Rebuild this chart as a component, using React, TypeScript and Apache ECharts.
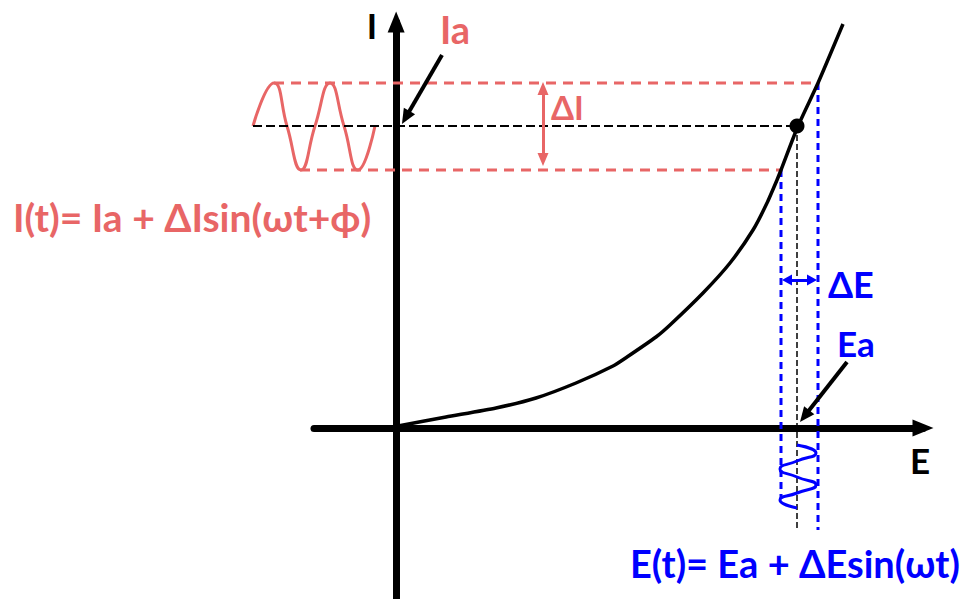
import React, { useEffect, useRef } from 'react';
import * as echarts from 'echarts';

const RED = '#E86666';
const BLUE = '#0000FF';
const FONT = "Lato, 'Noto Sans', 'DejaVu Sans', sans-serif";

// operating point and excursions (arbitrary units)
const Ea = 4.01;
const Ia = 3.02;
const eLow = 3.85;
const eHigh = 4.22;
const iLow = 2.58;
const iHigh = 3.45;

// I–E characteristic curve
const curveE = [0.02, 0.5, 1.0, 1.4, 1.8, 2.17, 2.31, 2.6, 2.74, 3.07, 3.34, 3.57, 3.71, 3.81, 3.85, 4.02, 4.22, 4.47];
const curveI = [0.02, 0.11, 0.2, 0.3, 0.45, 0.62, 0.71, 0.91, 1.03, 1.35, 1.65, 1.98, 2.25, 2.48, 2.58, 3.02, 3.45, 4.04];

// current response wave (drawn left of the I axis)
const currentWaveT = [-1.43, -1.22, -1.09, -0.95, -0.81, -0.66, -0.52, -0.38, -0.21];
const currentWaveI = [3.02, 3.45, 3.02, 2.58, 3.02, 3.45, 3.02, 2.58, 3.02];

// potential perturbation wave (drawn below the E axis)
const voltageWaveE = [4.01, 4.2, 4.01, 3.84, 4.01, 4.2, 4.01, 3.84, 4.01];
const voltageWaveT = [-0.17, -0.25, -0.33, -0.41, -0.49, -0.57, -0.65, -0.72, -0.8];

// guide-line extents
const waveStart = -1.43;
const redTopStart = -1.22;
const redBottomStart = -0.96;
const blueLeftBottom = -0.7;
const guideBottom = -1.02;

// annotation arrows [from, to]
const arrowIa = [[0.46, 3.73], [0.097, 3.105]];
const arrowEa = [[4.51, 0.66], [4.086, 0.119]];
const arrowDeltaI = [[1.47, 3.395], [1.47, 2.685]];
const arrowDeltaE = [[3.91, 1.48], [4.16, 1.48]];

// texts
const axisNameI = 'I';
const axisNameE = 'E';
const labelIa = 'Ia';
const labelEa = 'Ea';
const labelDeltaI = 'ΔI';
const labelDeltaE = 'ΔE';
const formulaI = 'I(t)= Ia + ΔIsin(ωt+ϕ)';
const formulaE = 'E(t)= Ea + ΔEsin(ωt)';

const zip = (a: number[], b: number[]) => a.map((v, i) => [v, b[i]]);

const seg = (pts: number[][], color: string, width: number, dash: any, z = 2, smooth: any = false) => ({
  type: 'line',
  xAxisIndex: 1,
  yAxisIndex: 1,
  data: pts,
  symbol: 'none',
  showSymbol: false,
  smooth,
  silent: true,
  z,
  lineStyle: { color, width, type: dash, cap: 'butt' },
});

const arrowSeries = (pts: number[][], color: string, width: number, symbols: string[], size: number[]) => ({
  type: 'line',
  xAxisIndex: 1,
  yAxisIndex: 1,
  data: [],
  silent: true,
  z: 5,
  markLine: {
    silent: true,
    symbol: symbols,
    symbolSize: size,
    label: { show: false },
    lineStyle: { color, width, type: 'solid', opacity: 1 },
    emphasis: { disabled: true },
    data: [[{ coord: pts[0] }, { coord: pts[1] }]],
  },
});

const txt = (text: string, x: number, y: number, color: string, size: number, align = 'left') => ({
  type: 'text',
  x,
  y,
  silent: true,
  z: 10,
  style: {
    text,
    fill: color,
    fontSize: size,
    fontWeight: 'bold',
    fontFamily: FONT,
    textAlign: align,
    textVerticalAlign: 'middle',
    align,
    verticalAlign: 'middle',
  },
});

export default function App() {
  const ref = useRef<HTMLDivElement>(null);
  useEffect(() => {
    document.body.style.margin = '0';
    if (!ref.current) return;
    const chart = echarts.init(ref.current, null, { renderer: 'svg' });
    const option: any = {
      animation: false,
      backgroundColor: '#ffffff',
      grid: [
        { left: 314, right: 47, top: 22, bottom: 0 },
        { left: 0, right: 0, top: 0, bottom: 0 },
      ],
      xAxis: [
        {
          type: 'value',
          gridIndex: 0,
          min: -0.82,
          max: 5.26,
          axisLine: {
            show: true,
            onZero: true,
            symbol: ['none', 'triangle'],
            symbolSize: [17, 21],
            lineStyle: { color: '#000', width: 7 },
          },
          axisTick: { show: false },
          axisLabel: { show: false },
          splitLine: { show: false },
        },
        { type: 'value', gridIndex: 1, min: -3.96, max: 5.74, show: false },
      ],
      yAxis: [
        {
          type: 'value',
          gridIndex: 0,
          min: -1.71,
          max: 4.06,
          axisLine: {
            show: true,
            onZero: true,
            symbol: ['none', 'triangle'],
            symbolSize: [17, 21],
            lineStyle: { color: '#000', width: 7 },
          },
          axisTick: { show: false },
          axisLabel: { show: false },
          splitLine: { show: false },
        },
        { type: 'value', gridIndex: 1, min: -1.71, max: 4.28, show: false },
      ],
      series: [
        // guide lines
        seg([[waveStart, Ia], [Ea, Ia]], '#000', 2, [9, 4], 3),
        seg([[redTopStart, iHigh], [eHigh, iHigh]], RED, 3, [10, 7]),
        seg([[redBottomStart, iLow], [eLow, iLow]], RED, 3, [10, 7]),
        seg([[eLow, iLow], [eLow, blueLeftBottom]], BLUE, 3, [7, 5]),
        seg([[eHigh, iHigh], [eHigh, guideBottom]], BLUE, 3, [7, 5]),
        seg([[Ea, Ia], [Ea, guideBottom]], '#000', 1.5, [6, 3]),
        // waves
        seg(zip(currentWaveT, currentWaveI), RED, 3, 'solid', 2, 0.5),
        seg(zip(voltageWaveE, voltageWaveT), BLUE, 3, 'solid', 2, 0.6),
        // characteristic curve
        seg(zip(curveE, curveI), '#000', 3.5, 'solid', 4, 0.2),
        // operating point
        {
          type: 'scatter',
          xAxisIndex: 1,
          yAxisIndex: 1,
          data: [[Ea, Ia]],
          symbol: 'circle',
          symbolSize: 15,
          itemStyle: { color: '#000', opacity: 1 },
          silent: true,
          z: 6,
        },
        arrowSeries(arrowIa, '#000', 4, ['none', 'triangle'], [13, 15]),
        arrowSeries(arrowEa, '#000', 4, ['none', 'triangle'], [13, 15]),
        arrowSeries(arrowDeltaI, RED, 3, ['triangle', 'triangle'], [11, 13]),
        arrowSeries(arrowDeltaE, BLUE, 3, ['triangle', 'triangle'], [11, 10]),
      ],
      graphic: [
        txt(axisNameI, 372, 25, '#000', 35, 'center'),
        txt(axisNameE, 910, 460, '#000', 35),
        txt(labelIa, 440, 29, RED, 38),
        txt(labelDeltaI, 551, 107, RED, 33),
        txt(formulaI, 13, 217, RED, 39),
        txt(labelDeltaE, 828, 284, BLUE, 36),
        txt(labelEa, 837, 343, BLUE, 35),
        txt(formulaE, 630, 563, BLUE, 38),
      ],
    };
    chart.setOption(option);
    return () => chart.dispose();
  }, []);
  return <div ref={ref} style={{ width: 970, height: 599 }} />;
}
